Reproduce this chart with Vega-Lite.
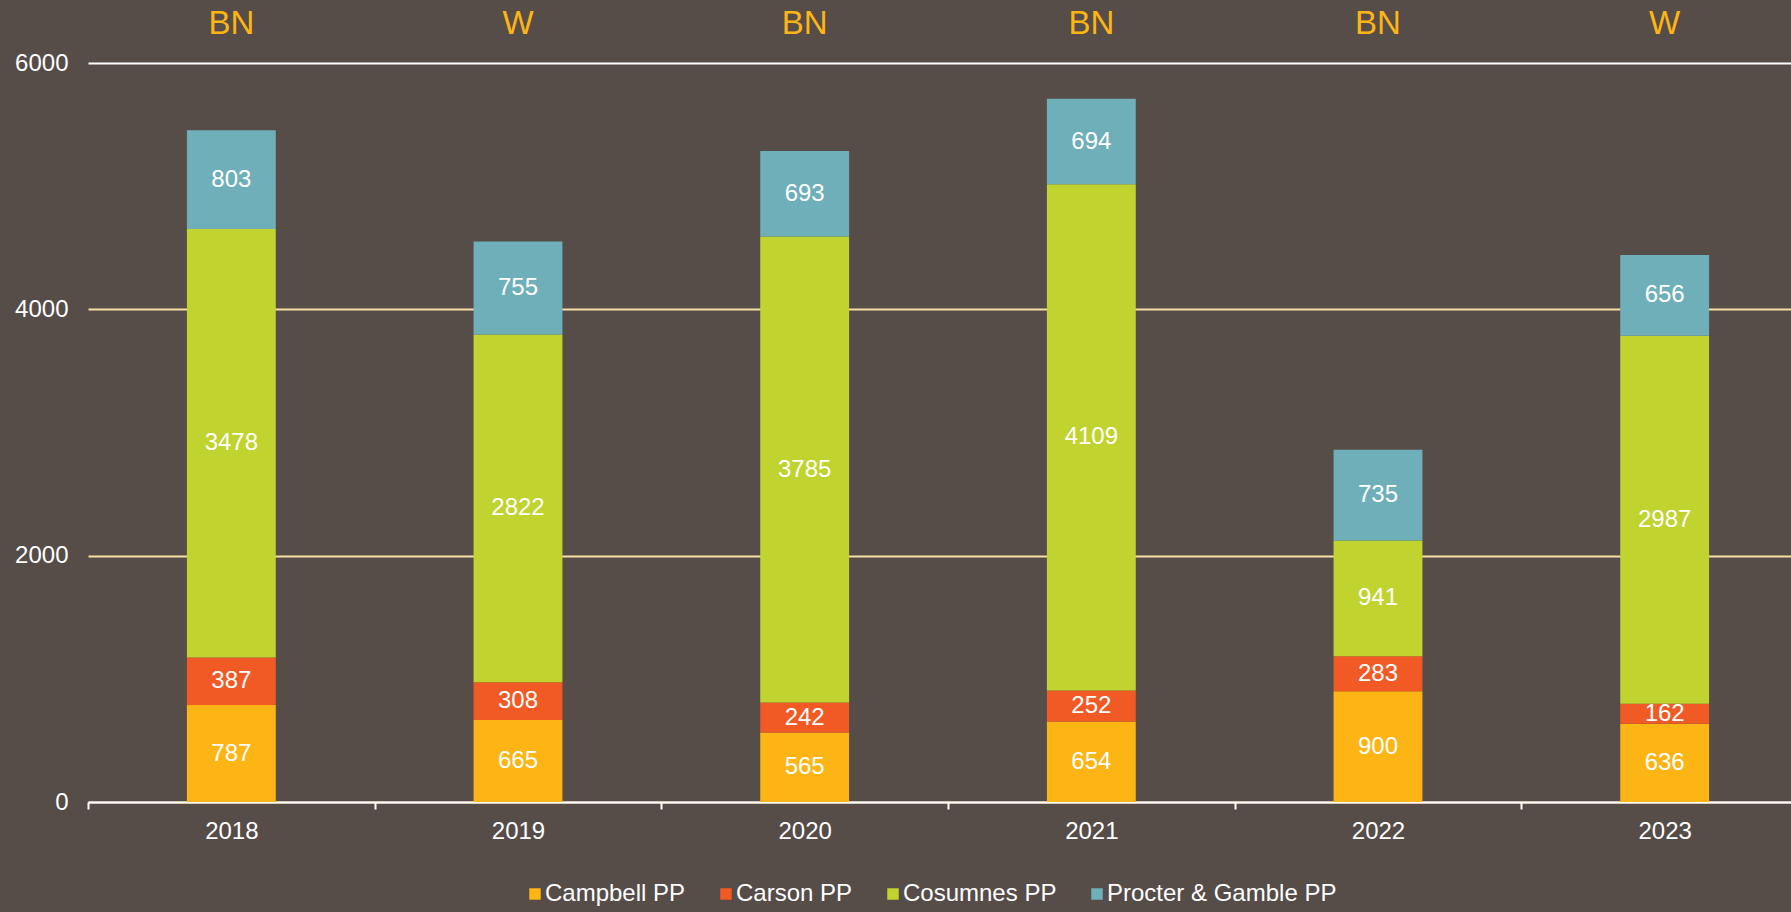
{
  "$schema": "https://vega.github.io/schema/vega-lite/v6.json",
  "width": 1703,
  "height": 739,
  "autosize": {"type": "none"},
  "padding": {"left": 88, "top": 63, "right": 0, "bottom": 110},
  "background": "#564C48",
  "config": {
    "font": "Liberation Sans",
    "view": {"stroke": null},
    "axis": {"labelFont": "Liberation Sans"},
    "legend": {"labelFont": "Liberation Sans"}
  },
  "datasets": {
    "gen": [
      {"year": "2018", "plant": "Campbell PP", "value": 787},
      {"year": "2018", "plant": "Carson PP", "value": 387},
      {"year": "2018", "plant": "Cosumnes PP", "value": 3478},
      {"year": "2018", "plant": "Procter & Gamble PP", "value": 803},
      {"year": "2019", "plant": "Campbell PP", "value": 665},
      {"year": "2019", "plant": "Carson PP", "value": 308},
      {"year": "2019", "plant": "Cosumnes PP", "value": 2822},
      {"year": "2019", "plant": "Procter & Gamble PP", "value": 755},
      {"year": "2020", "plant": "Campbell PP", "value": 565},
      {"year": "2020", "plant": "Carson PP", "value": 242},
      {"year": "2020", "plant": "Cosumnes PP", "value": 3785},
      {"year": "2020", "plant": "Procter & Gamble PP", "value": 693},
      {"year": "2021", "plant": "Campbell PP", "value": 654},
      {"year": "2021", "plant": "Carson PP", "value": 252},
      {"year": "2021", "plant": "Cosumnes PP", "value": 4109},
      {"year": "2021", "plant": "Procter & Gamble PP", "value": 694},
      {"year": "2022", "plant": "Campbell PP", "value": 900},
      {"year": "2022", "plant": "Carson PP", "value": 283},
      {"year": "2022", "plant": "Cosumnes PP", "value": 941},
      {"year": "2022", "plant": "Procter & Gamble PP", "value": 735},
      {"year": "2023", "plant": "Campbell PP", "value": 636},
      {"year": "2023", "plant": "Carson PP", "value": 162},
      {"year": "2023", "plant": "Cosumnes PP", "value": 2987},
      {"year": "2023", "plant": "Procter & Gamble PP", "value": 656}
    ],
    "wy": [
      {"year": "2018", "type": "BN"},
      {"year": "2019", "type": "W"},
      {"year": "2020", "type": "BN"},
      {"year": "2021", "type": "BN"},
      {"year": "2022", "type": "BN"},
      {"year": "2023", "type": "W"}
    ]
  },
  "encoding": {
    "x": {
      "field": "year",
      "type": "ordinal",
      "scale": {"paddingInner": 0, "paddingOuter": 0, "range": [0, 1720]},
      "axis": {
        "title": null,
        "labelAngle": 0,
        "labelColor": "white",
        "labelFontSize": 24,
        "labelPadding": 10,
        "domainColor": "white",
        "domainWidth": 2,
        "tickColor": "white",
        "tickWidth": 2,
        "tickSize": 7,
        "tickBand": "extent",
        "grid": false
      }
    }
  },
  "layer": [
    {
      "data": {"name": "gen"},
      "mark": {"type": "bar", "width": {"band": 0.31}},
      "encoding": {
        "y": {
          "field": "value",
          "type": "quantitative",
          "stack": "zero",
          "scale": {"domain": [0, 6000], "nice": false},
          "axis": {
            "title": null,
            "values": [0, 2000, 4000, 6000],
            "format": "d",
            "labelColor": "white",
            "labelFontSize": 24,
            "labelPadding": 20,
            "ticks": false,
            "domain": false,
            "grid": true,
            "gridWidth": 2,
            "gridColor": {"condition": {"test": "datum.value === 6000", "value": "#FFFFFF"}, "value": "#F5DFA3"}
          }
        },
        "order": {"field": "plant", "sort": "ascending"},
        "color": {
          "field": "plant",
          "type": "nominal",
          "scale": {
            "domain": ["Campbell PP", "Carson PP", "Cosumnes PP", "Procter & Gamble PP"],
            "range": ["#FDB515", "#F15A24", "#C1D32F", "#6FAFB9"]
          },
          "legend": {
            "title": null,
            "orient": "none",
            "legendX": 435,
            "legendY": 819,
            "direction": "horizontal",
            "symbolType": "square",
            "symbolSize": 132,
            "symbolStrokeWidth": 0,
            "labelColor": "white",
            "labelFontSize": 24,
            "labelLimit": 0,
            "labelOffset": -2,
            "columnPadding": 28,
            "padding": 0
          }
        }
      }
    },
    {
      "data": {"name": "gen"},
      "mark": {"type": "text", "color": "white", "fontSize": 24, "baseline": "middle"},
      "encoding": {
        "y": {"field": "value", "type": "quantitative", "stack": "zero", "bandPosition": 0.5},
        "order": {"field": "plant", "sort": "ascending"},
        "detail": {"field": "plant"},
        "text": {"field": "value", "type": "quantitative"}
      }
    },
    {
      "data": {"name": "wy"},
      "mark": {"type": "text", "color": "#FDB515", "fontSize": 33, "baseline": "middle", "dy": -39},
      "encoding": {
        "y": {"datum": 6000},
        "text": {"field": "type"}
      }
    }
  ]
}
